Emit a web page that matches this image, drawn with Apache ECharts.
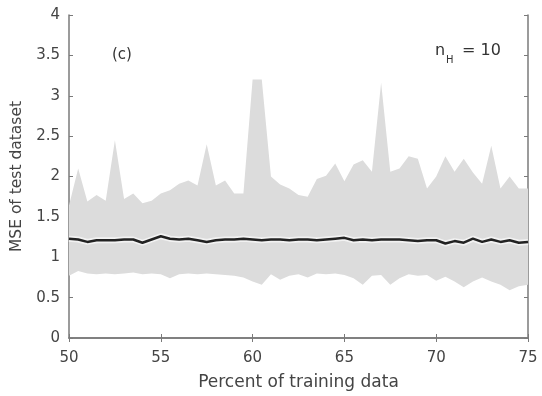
<!DOCTYPE html>
<html lang="en">
<head>
    <meta charset="UTF-8">
    <title>MSE of test dataset</title>
    <script src="https://cdn.jsdelivr.net/npm/echarts@6/dist/echarts.min.js"></script>
    <style>
        html, body { margin: 0; padding: 0; background: #fff; }
        #container { width: 542px; height: 396px; }
    </style>
</head>
<body>
<div id="container"></div>
<script type="text/javascript">

    // percent of training data
    var percent = [50, 50.5, 51, 51.5, 52, 52.5, 53, 53.5, 54, 54.5, 55, 55.5, 56, 56.5, 57, 57.5, 58, 58.5, 59, 59.5,
        60, 60.5, 61, 61.5, 62, 62.5, 63, 63.5, 64, 64.5, 65, 65.5, 66, 66.5, 67, 67.5, 68, 68.5, 69, 69.5,
        70, 70.5, 71, 71.5, 72, 72.5, 73, 73.5, 74, 74.5, 75];
    var upper = [1.64, 2.1, 1.69, 1.77, 1.7, 2.45, 1.72, 1.79, 1.67, 1.7, 1.79, 1.83, 1.91, 1.95, 1.89, 2.4, 1.89, 1.95, 1.79, 1.79,
        3.2, 3.2, 2.0, 1.9, 1.85, 1.77, 1.75, 1.97, 2.01, 2.16, 1.94, 2.15, 2.2, 2.06, 3.16, 2.06, 2.1, 2.25, 2.22, 1.85,
        2.0, 2.25, 2.06, 2.22, 2.05, 1.91, 2.38, 1.85, 2.0, 1.85, 1.85];
    var lower = [0.77, 0.83, 0.8, 0.79, 0.8, 0.79, 0.8, 0.81, 0.79, 0.8, 0.79, 0.74, 0.79, 0.8, 0.79, 0.8, 0.79, 0.78, 0.77, 0.75,
        0.7, 0.66, 0.79, 0.72, 0.77, 0.79, 0.75, 0.8, 0.79, 0.8, 0.78, 0.74, 0.66, 0.77, 0.78, 0.66, 0.74, 0.79, 0.77, 0.78,
        0.71, 0.76, 0.7, 0.63, 0.7, 0.75, 0.7, 0.66, 0.59, 0.64, 0.66];
    var mse = [1.23, 1.22, 1.19, 1.21, 1.21, 1.21, 1.22, 1.22, 1.18, 1.22, 1.26, 1.23, 1.22, 1.23, 1.21, 1.19, 1.21, 1.22, 1.22, 1.23,
        1.22, 1.21, 1.22, 1.22, 1.21, 1.22, 1.22, 1.21, 1.22, 1.23, 1.24, 1.21, 1.22, 1.21, 1.22, 1.22, 1.22, 1.21, 1.2, 1.21,
        1.21, 1.17, 1.2, 1.18, 1.23, 1.19, 1.22, 1.19, 1.21, 1.18, 1.19];

    var spread = upper.map(function (u, i) { return +(u - lower[i]).toFixed(3); });
    var cats = percent.map(String);

    var font = 'DejaVu Sans';
    var axisGray = '#7a7a7a';
    var textGray = '#444';
    // a label/tick every 5 percent = every 10th category
    var every10 = function (idx) { return idx % 10 === 0; };

    var myChart = echarts.init(document.getElementById('container'));

    myChart.setOption({
        animation: false,
        textStyle: { fontFamily: font },
        grid: { left: 69, right: 14, top: 15, bottom: 55 },
        xAxis: [{
            type: 'category', data: cats, boundaryGap: false,
            name: 'Percent of training data', nameLocation: 'middle', nameGap: 36,
            nameTextStyle: { fontSize: 17, color: textGray },
            axisLine: { lineStyle: { color: axisGray, width: 1.5 } },
            axisTick: { inside: true, length: 4, interval: every10, lineStyle: { color: axisGray } },
            axisLabel: { fontSize: 15, color: textGray, margin: 13, interval: every10 },
            splitLine: { show: false }
        }, {
            type: 'category', data: cats, boundaryGap: false, position: 'top',
            axisLine: { show: true, lineStyle: { color: axisGray, width: 1.5 } },
            axisTick: { inside: true, length: 4, interval: every10, lineStyle: { color: axisGray } },
            axisLabel: { show: false },
            splitLine: { show: false }
        }],
        yAxis: [{
            type: 'value', min: 0, max: 4, interval: 0.5,
            name: 'MSE of test dataset', nameLocation: 'middle', nameGap: 42,
            nameTextStyle: { fontSize: 15.5, color: textGray },
            axisLine: { show: true, lineStyle: { color: axisGray, width: 1.5 } },
            axisTick: { show: true, inside: true, length: 4, lineStyle: { color: axisGray } },
            axisLabel: { fontSize: 15, color: textGray, margin: 9 },
            splitLine: { show: false }
        }, {
            type: 'value', min: 0, max: 4, interval: 0.5, position: 'right',
            axisLine: { show: true, lineStyle: { color: axisGray, width: 1.5 } },
            axisTick: { show: true, inside: true, length: 4, lineStyle: { color: axisGray } },
            axisLabel: { show: false },
            splitLine: { show: false }
        }],
        graphic: [{
            type: 'text', left: 112, top: 48,
            style: { text: '(c)', font: '15px ' + font, fill: '#333' }
        }, {
            type: 'text', left: 435, top: 43,
            style: { text: 'n', font: '16px ' + font, fill: '#333' }
        }, {
            type: 'text', left: 446, top: 55,
            style: { text: 'H', font: '10px ' + font, fill: '#333' }
        }, {
            type: 'text', left: 462, top: 43,
            style: { text: '= 10', font: '16px ' + font, fill: '#333' }
        }],
        series: [{
            type: 'line', data: lower, stack: 'band',
            symbol: 'none', lineStyle: { opacity: 0 }, silent: true
        }, {
            type: 'line', data: spread, stack: 'band',
            symbol: 'none', lineStyle: { opacity: 0 },
            areaStyle: { color: '#dcdcdc', opacity: 1 }, silent: true
        }, {
            type: 'line', data: mse, symbol: 'none',
            lineStyle: { color: '#f2f2f2', width: 6 }, silent: true
        }, {
            type: 'line', data: mse, symbol: 'none',
            lineStyle: { color: '#222', width: 2.5 }
        }]
    });
</script>
</body>
</html>
